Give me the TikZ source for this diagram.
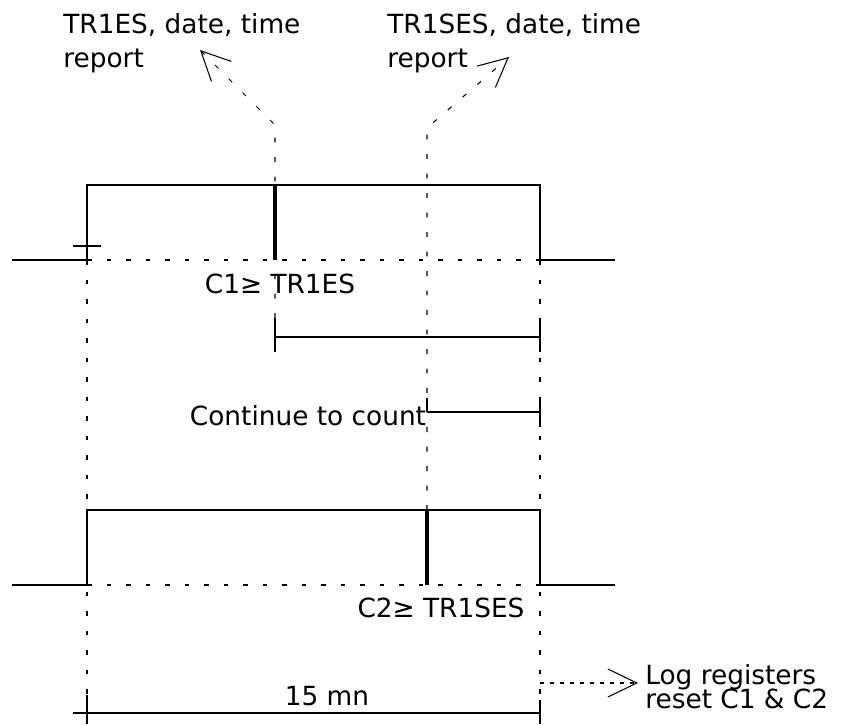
\documentclass[tikz,border=0pt]{standalone}
\usepackage{fontspec}
\setmainfont{DejaVu Sans}
\usetikzlibrary{arrows.meta}

\tikzset{
	sig/.style={line width=0.6pt},
	hitbar/.style={line width=2.3pt},
	guide/.style={line width=0.6pt, dash pattern=on 2.8pt off 8.3pt},
	fine guide/.style={line width=0.6pt, dash pattern=on 2.3pt off 3.4pt},
	report/.style={-{Straight Barb[length=16.5pt, width=16pt, line width=0.6pt]}},
	lbl/.style={font=\fontsize{15}{18}\selectfont, inner sep=0pt, anchor=base west},
	clbl/.style={lbl, anchor=base}
}

\begin{document}
\begin{tikzpicture}[x=0.02cm, y=-0.02cm]
	\useasboundingbox (0,0) rectangle (852,724);

	% upper window (C1)
	\coordinate (a0) at (12,260);
	\coordinate (a1) at (87,260);
	\coordinate (a2) at (87,185);
	\coordinate (a3) at (540,185);
	\coordinate (a4) at (540,260);
	\coordinate (a5) at (615,260);
	\draw[sig] (a0) -- (a1) -- (a2) -- (a3) -- (a4) -- (a5);
	\draw[guide] (a1) -- (a4);
	\draw[sig] (73,246) -- (101,246);

	% lower window (C2)
	\coordinate (b0) at (12,585);
	\coordinate (b1) at (87,585);
	\coordinate (b2) at (87,510);
	\coordinate (b3) at (540,510);
	\coordinate (b4) at (540,585);
	\coordinate (b5) at (615,585);
	\draw[sig] (b0) -- (b1) -- (b2) -- (b3) -- (b4) -- (b5);
	\draw[guide] (b1) -- (b4);

	% thresholds reached
	\coordinate (h1t) at (275,185);
	\coordinate (h1b) at (275,260);
	\coordinate (h2t) at (427,510);
	\coordinate (h2b) at (427,585);
	\draw[hitbar] (h1t) -- (h1b);
	\draw[hitbar] (h2t) -- (h2b);

	% labels
	\node[lbl] (rep1a) at (63,33) {TR1ES, date, time};
	\node[lbl] (rep1b) at (63,67) {report};
	\node[lbl] (rep2a) at (387,33) {TR1SES, date, time};
	\node[lbl] (rep2b) at (387,67) {report};
	\node[clbl] (thr1) at (280,293) {C1≥ TR1ES};
	\node[clbl] (thr2) at (441,617) {C2≥ TR1SES};
	\node[clbl] (cont) at (308,425) {Continue to count};
	\node[clbl] (dur) at (327,705) {15 mn};
	\node[lbl] (log1) at (645,684) {Log registers};
	\node[lbl] (log2) at (645,708) {reset C1 \& C2};

	% report arrows
	\coordinate (k1) at (275,125);
	\coordinate (t1) at (200,50);
	\coordinate (k2) at (427,128);
	\coordinate (t2) at (509,57);
	\draw[guide, report] (275,318) -- (k1) -- (t1);
	\draw[guide, report] (h2t) -- (k2) -- (t2);

	% window edges
	\draw[guide] (a1) -- (87,695);
	\draw[guide] (a4) -- (540,700);

	% count spans
	\coordinate (s1) at (275,337);
	\coordinate (s2) at (540,337);
	\draw[sig] (s1) -- (s2);
	\draw[sig] (275,318) -- (275,352);
	\draw[sig] (540,318) -- (540,352);

	\coordinate (s3) at (427,412);
	\coordinate (s4) at (540,412);
	\draw[sig] (s3) -- (s4);
	\draw[sig] (427,398) -- (s3);
	\draw[sig] (540,398) -- (540,427);

	\coordinate (s5) at (73,713);
	\coordinate (s6) at (540,713);
	\draw[sig] (s5) -- (s6);
	\draw[sig] (87,695) -- (87,724);
	\draw[sig] (540,700) -- (540,724);

	% end of window
	\coordinate (e1) at (540,683);
	\coordinate (t3) at (638,683);
	\draw[fine guide, report] (e1) -- (t3);
\end{tikzpicture}
\end{document}
